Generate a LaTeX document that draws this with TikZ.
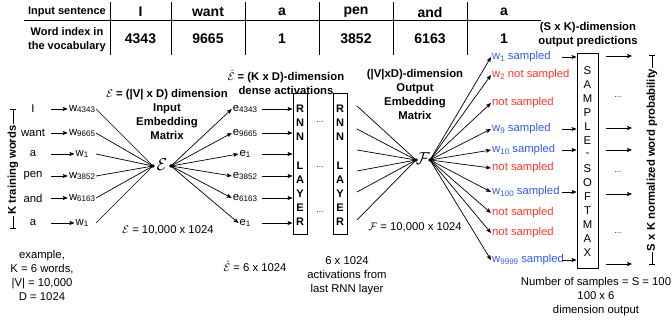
\documentclass[tikz,border=0pt]{standalone}
\usepackage{fontspec}
\setmainfont{Liberation Sans}
\usetikzlibrary{arrows.meta}
\definecolor{smpblue}{RGB}{50,90,250}
\definecolor{nsred}{RGB}{255,55,40}
\newcommand\sbs[1]{\raisebox{-0.25ex}{\fontsize{8}{8}\selectfont #1}}
\begin{document}
\begin{tikzpicture}[x=1pt,y=-1pt,
  txt/.style={inner sep=1pt, font=\fontsize{11.3}{14}\selectfont},
  btxt/.style={inner sep=1pt, font=\bfseries\fontsize{11.3}{14}\selectfont},
  cell/.style={inner sep=0pt, font=\bfseries\fontsize{14}{16}\selectfont},
  head/.style={inner sep=0pt, align=center, font=\bfseries\fontsize{11}{14}\selectfont},
  ln/.style={line width=0.7pt},
  arr/.style={ln, -{Stealth[length=5pt,width=4pt,inset=1pt]}},
  hub/.style={circle, fill, inner sep=0pt, minimum size=3.6pt},
  word/.style={txt, minimum width=36pt},
  layerbox/.style={draw, line width=0.8pt, minimum width=14pt, minimum height=141pt, inner sep=0pt},
  smaxbox/.style={draw, line width=0.8pt, minimum width=21pt, minimum height=215pt, inner sep=0pt},
  rnnletter/.style={inner sep=0pt, font=\bfseries\fontsize{11}{14}\selectfont},
  smletter/.style={inner sep=0pt, font=\fontsize{11.3}{14}\selectfont},
  dots/.style={inner sep=0pt, font=\fontsize{8}{8}\selectfont},
  smp/.style={txt, anchor=west, text=smpblue},
  nsm/.style={txt, anchor=west, text=nsred},
  bartop/.style={ln, {Bar[width=6pt]}-},
  barbot/.style={ln, -{Bar[width=6pt]}}
]
\useasboundingbox (0,0) rectangle (672,320);

% ---- table of the input sentence ----
\draw[ln] (24,20.7) -- (541,20.7);
\foreach \x in {110,171,245,319,393,467} \draw[ln] (\x,2) -- (\x,55);
\node[head] (hsent) at (67,12) {Input sentence};
\node[head] (hidx) at (67,40) {Word index in\\the vocabulary};
\foreach \w/\n/\x [count=\i] in {I/4343/140.5, want/9665/208, a/1/282, pen/3852/356, and/6163/430, a/1/504} {
  \node[cell] (tw\i) at (\x,12) {\w};
  \node[cell] (ti\i) at (\x,39) {\n};
}

% ---- K training words and input embedding ----
\node[btxt, rotate=90] (ktr) at (13,170) {K training words};
\coordinate (ktop) at (13,109);
\coordinate (kbot) at (13,229);
\draw[bartop] (ktop) -- (ktr.east);
\draw[barbot] (ktr.west) -- (kbot);

\node[hub] (eL) at (153,166) {};
\node[inner sep=0pt, font=\fontsize{17}{17}\selectfont] (Em) at (162,165) {$\mathcal{E}$};
\node[hub] (eR) at (171,166) {};
\coordinate (wr) at (96,0);
\coordinate (er) at (262,0);

% two RNN layers, letters set one per row
\node[layerbox] (L1) at (300,163.5) {};
\node[layerbox] (L2) at (340,163.5) {};
\foreach \c/\y [count=\i] in {R/109, N/123, N/137, L/166, A/180, Y/194, E/208, R/222} {
  \node[rnnletter] (la\i) at (300,\y) {\c};
  \node[rnnletter] (lb\i) at (340,\y) {\c};
}

\foreach \w/\y/\s [count=\i] in {I/109/4343, want/133/9665, a/154/1, pen/176/3852, and/198/6163, a/223/1} {
  \node[word] (kw\i) at (33,\y) {\w};
  \node[txt] (w\i) at (82,\y) {w\sbs{\s}};
  \draw[arr] (kw\i.east) -- (w\i.west);
  \draw[ln] (w\i -| wr) -- (eL.center);
  \node[txt] (e\i) at (245,\y) {e\sbs{\s}};
  \draw[arr] (eR.center) -- (e\i.west);
  \draw[arr] (e\i -| er) -- (e\i -| L1.west);
}

\node[btxt, align=center] (etitle) at (167,114) {$\mathcal{E}$ = (|V| x D) dimension\\Input\\Embedding\\Matrix};
\node[txt] (esize) at (168,230) {$\mathcal{E}$ = 10,000 x 1024};
\node[txt, align=center] (example) at (42,275) {example,\\K = 6 words,\\|V| = 10,000\\D = 1024};

% ---- RNN layers ----
\node[btxt, align=center] (htitle) at (286,82) {$\hat{\mathcal{E}}$ = (K x D)-dimension\\dense activations};
\node[txt] (hsize) at (255,266) {$\hat{\mathcal{E}}$ = 6 x 1024};
\node[txt, align=center] (actv) at (347,276) {6 x 1024\\activations from\\last RNN layer};
\node[dots] (d1) at (320,122) {...};
\node[dots] (d2) at (320,167) {...};
\node[dots] (d3) at (320,212) {...};

% ---- output embedding ----
\node[hub] (fL) at (416,160) {};
\node[inner sep=0pt, font=\fontsize{16}{16}\selectfont] (Fm) at (423,159) {$\mathcal{F}$};
\node[hub] (fR) at (430,160) {};
\foreach \y [count=\i] in {106,129,150,171,192,220} {
  \coordinate (r\i) at (357,\y);
  \draw[ln] (r\i) -- (fL.center);
}
\node[btxt, align=center] (ftitle) at (415,94) {(|V|xD)-dimension\\Output\\Embedding\\Matrix};
\node[txt] (fsize) at (415,227) {$\mathcal{F}$ = 10,000 x 1024};

% ---- sampled outputs ----
\node[smp] (o1) at (491,57) {w\sbs{1} sampled};
\node[nsm] (o2) at (491,75) {w\sbs{2} not sampled};
\node[nsm] (o3) at (491,103) {not sampled};
\node[smp] (o4) at (491,129) {w\sbs{9} sampled};
\node[smp] (o5) at (491,150) {w\sbs{10} sampled};
\node[nsm] (o6) at (491,168) {not sampled};
\node[smp] (o7) at (491,192) {w\sbs{100} sampled};
\node[nsm] (o8) at (491,213) {not sampled};
\node[nsm] (o9) at (491,233) {not sampled};
\node[smp] (o10) at (491,260) {w\sbs{9999} sampled};
\foreach \i in {1,...,10} \draw[arr] (fR.center) -- (o\i.west);

% sampled softmax box, letters set one per row
\node[smaxbox] (SM) at (587.5,160.5) {};
\foreach \c [count=\i] in {S,A,M,P,L,E,-,S,O,F,T,M,A,X}
  \node[smletter] (sm\i) at (587.5,57+14*\i) {\c};
\coordinate (sx) at (562,0);
\foreach \i in {1,4,5,7,10} \draw[arr] (o\i -| sx) -- (o\i -| SM.west);

\foreach \y [count=\i] in {56,128,150,194,264} {
  \coordinate (p\i) at (632,\y);
  \draw[arr] ([xshift=8pt]p\i -| SM.east) -- (p\i);
}
\node[dots] (d4) at (618,97) {...};
\node[dots] (d5) at (618,172) {...};
\node[dots] (d6) at (618,233) {...};

\node[btxt, align=center] (ptitle) at (588,35) {(S x K)-dimension\\output predictions};
\node[btxt, rotate=90] (prob) at (652,160) {S x K normalized word probability};
\coordinate (ptop) at (652,55);
\coordinate (pbot) at (652,265);
\draw[bartop] (ptop) -- (prob.east);
\draw[barbot] (prob.west) -- (pbot);
\node[txt, align=center] (nsamp) at (596,297) {Number of samples = S = 100\\100 x 6\\dimension output};
\end{tikzpicture}
\end{document}
